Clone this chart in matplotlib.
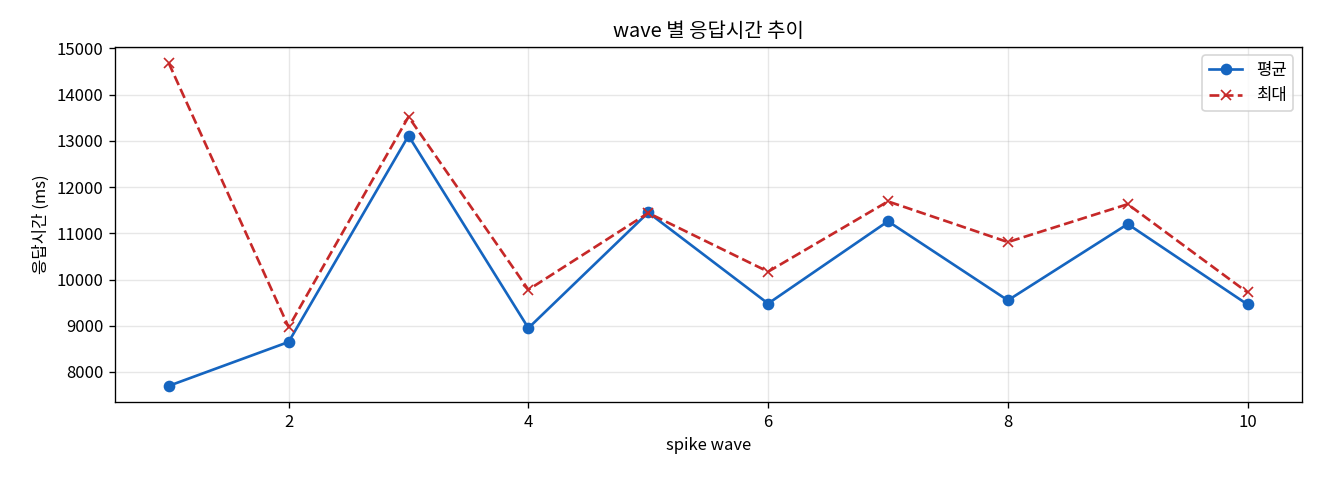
import matplotlib
matplotlib.use("Agg")
import matplotlib.pyplot as plt

plt.rcParams['font.family'] = ['Noto Sans CJK KR', 'DejaVu Sans']
plt.rcParams['axes.unicode_minus'] = False

# Data
waves = [1, 2, 3, 4, 5, 6, 7, 8, 9, 10]
avg_ms = [7700, 8650, 13110, 8950, 11450, 9480, 11260, 9550, 11200, 9460]
max_ms = [14680, 8970, 13520, 9780, 11440, 10170, 11690, 10810, 11630, 9720]

fig, ax = plt.subplots(figsize=(11, 4), dpi=120)

ax.plot(waves, avg_ms, label="평균", color="#1565C0", marker="o", markersize=6, linewidth=1.6)
ax.plot(waves, max_ms, label="최대", color="#C62828", marker="x", markersize=6,
        linestyle="--", linewidth=1.6)

ax.set_title("wave 별 응답시간 추이", fontsize=12)
ax.set_xlabel("spike wave", fontsize=10)
ax.set_ylabel("응답시간 (ms)", fontsize=10)
ax.set_xticks([2, 4, 6, 8, 10])
ax.grid(alpha=0.3)
ax.legend(loc="upper right")

fig.subplots_adjust(left=0.087, right=0.986, top=0.902, bottom=0.1625)
fig.savefig("out.png")
